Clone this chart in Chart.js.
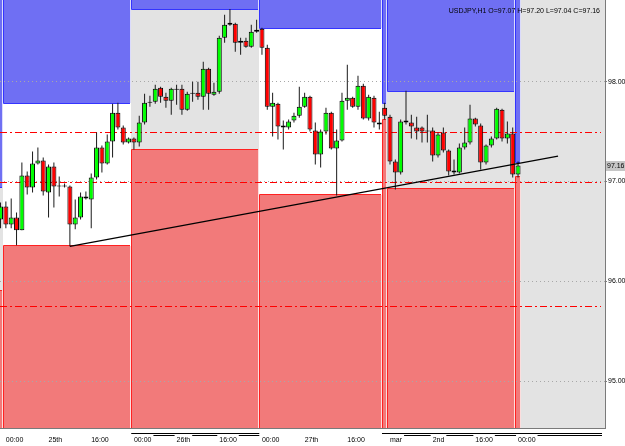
<!DOCTYPE html>
<html>
<head>
<meta charset="utf-8">
<script src="https://cdn.jsdelivr.net/npm/chart.js@4.4.0/dist/chart.umd.min.js"></script>
<style>
  html, body { margin: 0; padding: 0; background: #fff; }
</style>
</head>
<body>
<canvas id="chart" width="625" height="446"></canvas>
<script>
// hourly USDJPY bars, index 0 = Feb 24 23:00
const open = [96.62, 96.75, 96.57, 96.64, 96.51, 97.06, 96.94, 97.18, 97.21, 96.89,
  97.15, 96.95, 96.95, 96.95, 96.57, 96.64, 96.85, 96.82, 97.04, 97.34,
  97.18, 97.40, 97.69, 97.54, 97.39, 97.43, 97.39, 97.59, 97.79, 97.80,
  97.94, 97.85, 97.81, 97.93, 97.93, 97.72, 97.88, 97.89, 97.85, 98.13,
  97.87, 97.90, 98.44, 98.57, 98.58, 98.39, 98.41, 98.35, 98.50, 98.53,
  98.34, 97.75, 97.78, 97.56, 97.54, 97.61, 97.66, 97.75, 97.85, 97.51,
  97.27, 97.50, 97.69, 97.33, 97.41, 97.81, 97.84, 97.75, 97.96, 97.63,
  97.84, 97.59, 97.74, 97.65, 97.20, 97.09, 97.61, 97.59, 97.54, 97.54,
  97.50, 97.51, 97.26, 97.49, 97.31, 97.11, 97.09, 97.34, 97.39, 97.63,
  97.56, 97.19, 97.36, 97.43, 97.72, 97.43, 97.48, 97.07];
const high = [96.79, 96.80, 96.83, 96.69, 97.19, 97.10, 97.30, 97.34, 97.24, 97.17,
  97.19, 97.05, 96.98, 96.96, 96.82, 96.89, 96.90, 97.08, 97.49, 97.36,
  97.47, 97.78, 97.79, 97.56, 97.44, 97.44, 97.66, 97.88, 97.86, 97.97,
  97.95, 97.89, 97.94, 97.97, 97.97, 97.90, 98.00, 98.00, 98.20, 98.14,
  97.99, 98.46, 98.67, 98.73, 98.59, 98.44, 98.44, 98.57, 98.62, 98.54,
  98.37, 97.89, 97.79, 97.61, 97.62, 97.69, 97.95, 97.89, 97.86, 97.59,
  97.52, 97.74, 97.70, 97.52, 97.89, 98.17, 97.85, 98.06, 97.98, 97.87,
  97.86, 97.70, 97.79, 97.67, 97.22, 97.62, 97.91, 97.67, 97.65, 97.55,
  97.67, 97.54, 97.49, 97.54, 97.32, 97.22, 97.38, 97.54, 97.77, 97.64,
  97.58, 97.37, 97.45, 97.74, 97.73, 97.60, 97.54, 97.20];
const low = [96.53, 96.53, 96.53, 96.36, 96.51, 96.87, 96.89, 97.17, 96.86, 96.64,
  96.74, 96.85, 96.94, 96.35, 96.52, 96.62, 96.82, 96.53, 97.02, 97.09,
  97.17, 97.24, 97.52, 97.37, 97.38, 97.32, 97.35, 97.57, 97.75, 97.78,
  97.79, 97.74, 97.67, 97.77, 97.67, 97.71, 97.80, 97.82, 97.72, 97.72,
  97.86, 97.88, 98.39, 98.56, 98.30, 98.27, 98.34, 98.34, 98.49, 98.27,
  97.72, 97.45, 97.42, 97.32, 97.52, 97.59, 97.64, 97.74, 97.50, 97.17,
  97.14, 97.47, 97.32, 96.86, 97.40, 97.72, 97.74, 97.72, 97.62, 97.61,
  97.54, 97.52, 97.62, 97.17, 96.92, 97.07, 97.57, 97.43, 97.42, 97.39,
  97.39, 97.20, 97.24, 97.29, 97.06, 97.07, 97.08, 97.32, 97.37, 97.55,
  97.12, 97.17, 97.34, 97.42, 97.40, 97.38, 97.04, 97.04];
const close = [96.75, 96.57, 96.64, 96.51, 97.06, 96.94, 97.18, 97.21, 96.90, 97.15,
  96.95, 96.96, 96.96, 96.57, 96.64, 96.85, 96.83, 97.04, 97.34, 97.18,
  97.40, 97.69, 97.54, 97.39, 97.43, 97.39, 97.59, 97.79, 97.80, 97.93,
  97.85, 97.81, 97.93, 97.92, 97.72, 97.88, 97.89, 97.85, 98.13, 97.88,
  97.90, 98.44, 98.57, 98.59, 98.39, 98.41, 98.35, 98.50, 98.52, 98.34,
  97.75, 97.79, 97.55, 97.54, 97.60, 97.66, 97.75, 97.85, 97.52, 97.27,
  97.50, 97.69, 97.33, 97.41, 97.81, 97.84, 97.75, 97.96, 97.63, 97.85,
  97.59, 97.57, 97.66, 97.20, 97.09, 97.60, 97.59, 97.55, 97.50, 97.50,
  97.51, 97.26, 97.47, 97.31, 97.10, 97.09, 97.34, 97.39, 97.63, 97.57,
  97.19, 97.36, 97.43, 97.73, 97.43, 97.48, 97.07, 97.16];

// time axis labels (bar index -> text)
const tickIndex = [1, 9, 17, 25, 33, 41, 49, 57, 65, 73, 81, 89, 97];
const tickText = ['00:00', '25th', '16:00', '00:00', '26th', '16:00', '00:00', '27th', '16:00', 'mar', '2nd', '16:00', '00:00'];
const priceTicks = [95, 96, 97, 98];

// daily sessions: first/last bar, high, low
const dayFirst = [-6, 1, 25, 49, 72, 73, 97];
const dayLast = [0, 24, 48, 71, 72, 96, 97];
const dayHigh = [96.94, 97.79, 98.73, 98.54, 97.79, 97.91, 97.20];
const dayLow = [95.90, 96.35, 97.32, 96.86, 97.62, 96.92, 97.04];
const dayWhite = [false, true, false, true, false, false, false];

// horizontal levels (hand-drawn, sit just under the round numbers) and trend line
const levels = [97.495, 96.99, 95.75];
const trendX = [13, 104.5];
const trendY = [96.35, 97.255];

const xMin = -0.1, xMax = 113.3;
const yMin = 94.529, yMax = 98.819;

const FONT = 'Liberation Sans';
const GREEN = '#00ff00', RED = '#ff0000';

const sessions = {
  id: 'sessions',
  beforeDraw(chart) {
    const { ctx, chartArea: a, scales: { x, y } } = chart;
    ctx.save();
    ctx.beginPath();
    ctx.rect(a.left, a.top, a.right - a.left, a.bottom - a.top);
    ctx.clip();
    ctx.fillStyle = '#e3e3e3';
    ctx.fillRect(a.left, a.top, a.right - a.left, a.bottom - a.top);
    dayFirst.forEach((f, d) => {
      const x0 = Math.round(x.getPixelForValue(f - 0.5));
      const x1 = Math.round(x.getPixelForValue(dayLast[d] + 0.5));
      const yh = Math.round(y.getPixelForValue(dayHigh[d]));
      const yl = Math.round(y.getPixelForValue(dayLow[d]));
      if (dayWhite[d]) {
        ctx.fillStyle = '#ffffff';
        ctx.fillRect(x0, a.top, x1 - x0, a.bottom - a.top);
      }
      ctx.fillStyle = '#6f6ff3';
      ctx.fillRect(x0, a.top, x1 - x0, yh - a.top);
      ctx.fillStyle = '#f27a7a';
      ctx.fillRect(x0, yl, x1 - x0, a.bottom - yl);
      ctx.lineWidth = 1;
      // box edges
      ctx.strokeStyle = 'rgba(255,255,255,0.75)';
      ctx.beginPath();
      ctx.moveTo(x1 - 0.5, a.top); ctx.lineTo(x1 - 0.5, yh);
      ctx.moveTo(x1 - 0.5, yl); ctx.lineTo(x1 - 0.5, a.bottom);
      ctx.stroke();
      ctx.strokeStyle = '#3434ff';
      ctx.beginPath();
      ctx.moveTo(x0 + 0.5, a.top); ctx.lineTo(x0 + 0.5, yh + 0.5); ctx.lineTo(x1 - 1, yh + 0.5);
      ctx.stroke();
      ctx.strokeStyle = '#ff2222';
      ctx.beginPath();
      ctx.moveTo(x0 + 0.5, a.bottom); ctx.lineTo(x0 + 0.5, yl - 0.5); ctx.lineTo(x1 - 1, yl - 0.5);
      ctx.stroke();
    });
    ctx.restore();
  },
  beforeDatasetsDraw(chart) {
    // dash-dot price levels, behind the bars
    const { ctx, chartArea: a, scales: { y } } = chart;
    ctx.save();
    ctx.strokeStyle = '#ff0000';
    ctx.lineWidth = 1;
    ctx.setLineDash([7, 3, 2, 3]);
    levels.forEach(v => {
      const yp = Math.round(y.getPixelForValue(v)) + 0.5;
      ctx.beginPath();
      ctx.moveTo(a.left, yp);
      ctx.lineTo(a.right - 4, yp);
      ctx.stroke();
    });
    ctx.restore();
  },
  afterDraw(chart) {
    const { ctx, chartArea: a, scales: { x, y } } = chart;
    const n = close.length - 1;
    ctx.save();
    // legend line in the corner
    ctx.font = '7px ' + FONT;
    ctx.fillStyle = '#000';
    ctx.textAlign = 'right';
    ctx.textBaseline = 'middle';
    ctx.fillText('USDJPY,H1 O=' + open[n].toFixed(2) + ' H=' + high[n].toFixed(2) +
      ' L=' + low[n].toFixed(2) + ' C=' + close[n].toFixed(2), a.right - 5, a.top + 11);
    // last price tag
    const yp = Math.round(y.getPixelForValue(close[n]));
    ctx.fillStyle = '#c6c6c6';
    ctx.fillRect(a.right + 1, yp - 5, 20, 10);
    ctx.fillStyle = '#000';
    ctx.textAlign = 'left';
    ctx.fillText(close[n].toFixed(2), a.right + 2, yp);
    // period brackets under the time axis
    ctx.strokeStyle = '#000';
    ctx.lineWidth = 1;
    const runs = [];
    dayFirst.forEach((f, d) => {
      if (d === 0 || dayWhite[d]) return;
      const last = runs[runs.length - 1];
      if (last && last.to === f - 1) last.to = dayLast[d];
      else runs.push({ from: f, to: dayLast[d] });
    });
    runs.forEach(r => {
      const x0 = x.getPixelForValue(r.from - 0.5);
      const x1 = r.to === dayLast[dayLast.length - 1] ? a.right - 3 : x.getPixelForValue(r.to + 0.5);
      ctx.beginPath();
      ctx.moveTo(x0, a.bottom + 5.5); ctx.lineTo(x1, a.bottom + 5.5);
      ctx.stroke();
      tickIndex.forEach((t, k) => {
        if (t < r.from || t > r.to + 0.5) return;
        const s = x.getPixelForValue(t) + ctx.measureText(tickText[k]).width + 2;
        const nx = k + 1 < tickIndex.length && tickIndex[k + 1] <= r.to ? x.getPixelForValue(tickIndex[k + 1]) - 2 : x1;
        ctx.beginPath();
        ctx.moveTo(s, a.bottom + 7.5); ctx.lineTo(nx, a.bottom + 7.5);
        ctx.stroke();
      });
    });
    ctx.restore();
  }
};

const wickData = low.map((l, i) => ({ x: i, y: [l, high[i]] }));
const bodyData = open.map((o, i) => ({ x: i, y: [o, close[i]] }));

new Chart(document.getElementById('chart'), {
  type: 'bar',
  data: {
    datasets: [
      {
        data: wickData,
        backgroundColor: '#1a1a1a',
        barThickness: 1,
        grouped: false,
        inflateAmount: 0,
        borderSkipped: false,
        order: 3
      },
      {
        data: bodyData,
        backgroundColor: ctx => close[ctx.dataIndex] >= open[ctx.dataIndex] ? GREEN : RED,
        borderColor: '#000',
        borderWidth: 1,
        barThickness: 5,
        grouped: false,
        inflateAmount: 0,
        borderSkipped: false,
        order: 2
      },
      {
        type: 'line',
        data: trendX.map((v, i) => ({ x: v, y: trendY[i] })),
        borderColor: '#000',
        borderWidth: 1.2,
        pointRadius: 0,
        order: 0
      }
    ]
  },
  options: {
    responsive: false,
    animation: false,
    devicePixelRatio: 1,
    layout: { padding: 0 },
    plugins: { legend: { display: false }, tooltip: { enabled: false } },
    scales: {
      x: {
        type: 'linear',
        min: xMin,
        max: xMax,
        offset: false,
        grid: { display: false, drawTicks: false },
        border: { display: true, color: '#7a7a7a' },
        afterBuildTicks: s => { s.ticks = tickIndex.map(v => ({ value: v })); },
        afterFit: s => { s.height = 18; s.paddingLeft = 0; s.paddingRight = 0; },
        ticks: {
          autoSkip: false,
          maxRotation: 0,
          align: 'start',
          padding: 8,
          color: '#000',
          font: { family: FONT, size: 7 },
          callback: (v, i) => tickText[i]
        }
      },
      y: {
        position: 'right',
        min: yMin,
        max: yMax,
        afterBuildTicks: s => { s.ticks = priceTicks.map(v => ({ value: v })); },
        afterFit: s => { s.width = 20; s.paddingTop = 0; s.paddingBottom = 0; },
        grid: { color: '#a8a8a8', tickLength: 2, tickColor: '#7a7a7a', tickBorderDash: [] },
        border: { display: true, color: '#7a7a7a', dash: [1, 3] },
        ticks: {
          padding: 1,
          color: '#000',
          font: { family: FONT, size: 7 },
          callback: v => v.toFixed(2)
        }
      }
    }
  },
  plugins: [sessions]
});
</script>
</body>
</html>
